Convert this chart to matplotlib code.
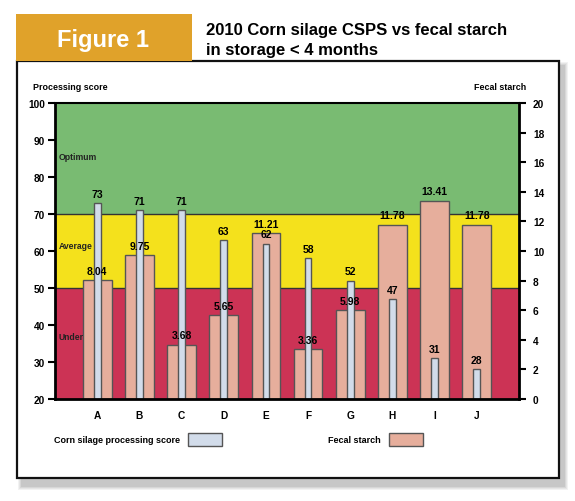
import matplotlib
matplotlib.use("Agg")
import matplotlib.pyplot as plt
from matplotlib import font_manager
from matplotlib.patches import Rectangle

# data
samples = ["A", "B", "C", "D", "E", "F", "G", "H", "I", "J"]
csps = [73, 71, 71, 63, 62, 58, 52, 47, 31, 28]
fecal = [8.04, 9.75, 3.68, 5.65, 11.21, 3.36, 5.98, 11.78, 13.41, 11.78]
fecal_labels = ["8.04", "9.75", "3.68", "5.65", "11.21", "3.36", "5.98", "11.78", "13.41", "11.78"]

# score zones (left axis units)
zones = [(20, 50, "Under", 37), (50, 70, "Average", 61.5), (70, 100, "Optimum", 85.5)]
zone_colors = ["#CC3355", "#F4E11C", "#79BB72"]

names = {f.name for f in font_manager.fontManager.ttflist}
if "Liberation Sans Narrow" in names:
    FONT = "Liberation Sans Narrow"
else:
    FONT = "Liberation Sans"
plt.rcParams["font.family"] = [FONT, "DejaVu Sans"]

W, H = 575, 502
fig = plt.figure(figsize=(W / 100, H / 100), dpi=100)


def fx(x):
    return x / W


def fy(y):
    return 1 - y / H


def box(x0, y0, x1, y1, **kw):
    r = Rectangle((fx(x0), fy(y1)), fx(x1) - fx(x0), fy(y0) - fy(y1),
                  transform=fig.transFigure, **kw)
    fig.add_artist(r)
    return r


# frame shadow
for i, a in enumerate([0.10, 0.12, 0.15, 0.2]):
    d = 3 - i
    box(21 - d, 66 - d, 565 + d, 488 + d, facecolor="#888888", edgecolor="none",
        alpha=a, zorder=0)
box(17, 62, 559, 479, facecolor="white", edgecolor="#111111", lw=1.6, zorder=1)

# title block
box(16, 15, 192, 62, facecolor="#E0A22A", edgecolor="none", zorder=2)
fig.text(fx(103), fy(40), "Figure 1", color="white", fontsize=17, fontweight="bold",
         family="Liberation Sans", ha="center", va="center", zorder=3)
fig.text(fx(206), fy(31), "2010 Corn silage CSPS vs fecal starch", fontsize=12,
         fontweight="bold", ha="left", va="center")
fig.text(fx(206), fy(51), "in storage < 4 months", fontsize=12,
         fontweight="bold", ha="left", va="center")

# axes
rect = [fx(55), fy(400), fx(519) - fx(55), fy(104) - fy(400)]
ax2 = fig.add_axes(rect, zorder=2)
ax = fig.add_axes(rect, zorder=3)
ax.patch.set_visible(False)

x = list(range(len(samples)))
ax.set_xlim(-1, 10)
ax2.set_xlim(-1, 10)
ax.set_ylim(20, 100)
ax2.set_ylim(0, 20)

for (lo, hi, name, ty), c in zip(zones, zone_colors):
    ax2.add_patch(Rectangle((-1, lo), 11, hi - lo, transform=ax.transData,
                            facecolor=c, edgecolor="none", zorder=0))
    ax.text(-0.92, ty, name, fontsize=6.2, fontweight="bold", va="center",
            ha="left", color="#222222")
for lvl in (50, 70):
    ax2.plot([-1, 10], [lvl, lvl], transform=ax.transData, color="#333333",
             lw=1, zorder=1)

ax2.bar(x, fecal, width=0.68, color="#E6AE9C", edgecolor="#555555", lw=1, zorder=2)
ax.bar(x, [v - 20 for v in csps], bottom=20, width=0.16, color="#D2DCEA",
       edgecolor="#555555", lw=1, zorder=2)

for xi, v in zip(x, csps):
    ax.annotate(str(v), (xi, v), xytext=(0, 3), textcoords="offset points",
                ha="center", va="bottom", fontsize=7.5, fontweight="bold", zorder=5)
for xi, v, lab in zip(x, fecal, fecal_labels):
    ax.annotate(lab, (xi, v), xycoords=ax2.transData, xytext=(0, 3),
                textcoords="offset points", ha="center", va="bottom", fontsize=7.5,
                fontweight="bold", zorder=5)

ax.set_xticks(x)
ax.set_xticklabels(samples)
ax.set_yticks(range(20, 101, 10))
ax2.set_yticks(range(0, 21, 2))
ax2.set_xticks([])
ax2.yaxis.tick_right()
ax.tick_params(axis="x", length=0, pad=8)
ax.tick_params(axis="y", length=5, width=1.5, direction="out", pad=2)
ax2.tick_params(axis="y", length=5, width=1.5, direction="out", pad=5)
for a in (ax, ax2):
    for lab in a.get_xticklabels() + a.get_yticklabels():
        lab.set_fontsize(7.3)
        lab.set_fontweight("bold")
for s in ax.spines.values():
    s.set_linewidth(2)
    s.set_color("black")
for s in ax2.spines.values():
    s.set_visible(False)
ax.spines["top"].set_linewidth(1.5)

fig.text(fx(33), fy(87), "Processing score", fontsize=6.4, fontweight="bold",
         ha="left", va="center")
fig.text(fx(500), fy(87), "Fecal starch", fontsize=6.4, fontweight="bold",
         ha="center", va="center")

# legend
fig.text(fx(54), fy(441), "Corn silage processing score", fontsize=6.5,
         fontweight="bold", ha="left", va="center")
box(188, 434, 222, 447, facecolor="#D2DCEA", edgecolor="#555555", lw=1, zorder=3)
fig.text(fx(328), fy(441), "Fecal starch", fontsize=6.5, fontweight="bold",
         ha="left", va="center")
box(389, 434, 423, 447, facecolor="#E6AE9C", edgecolor="#555555", lw=1, zorder=3)

fig.savefig("out.png", dpi=100)
